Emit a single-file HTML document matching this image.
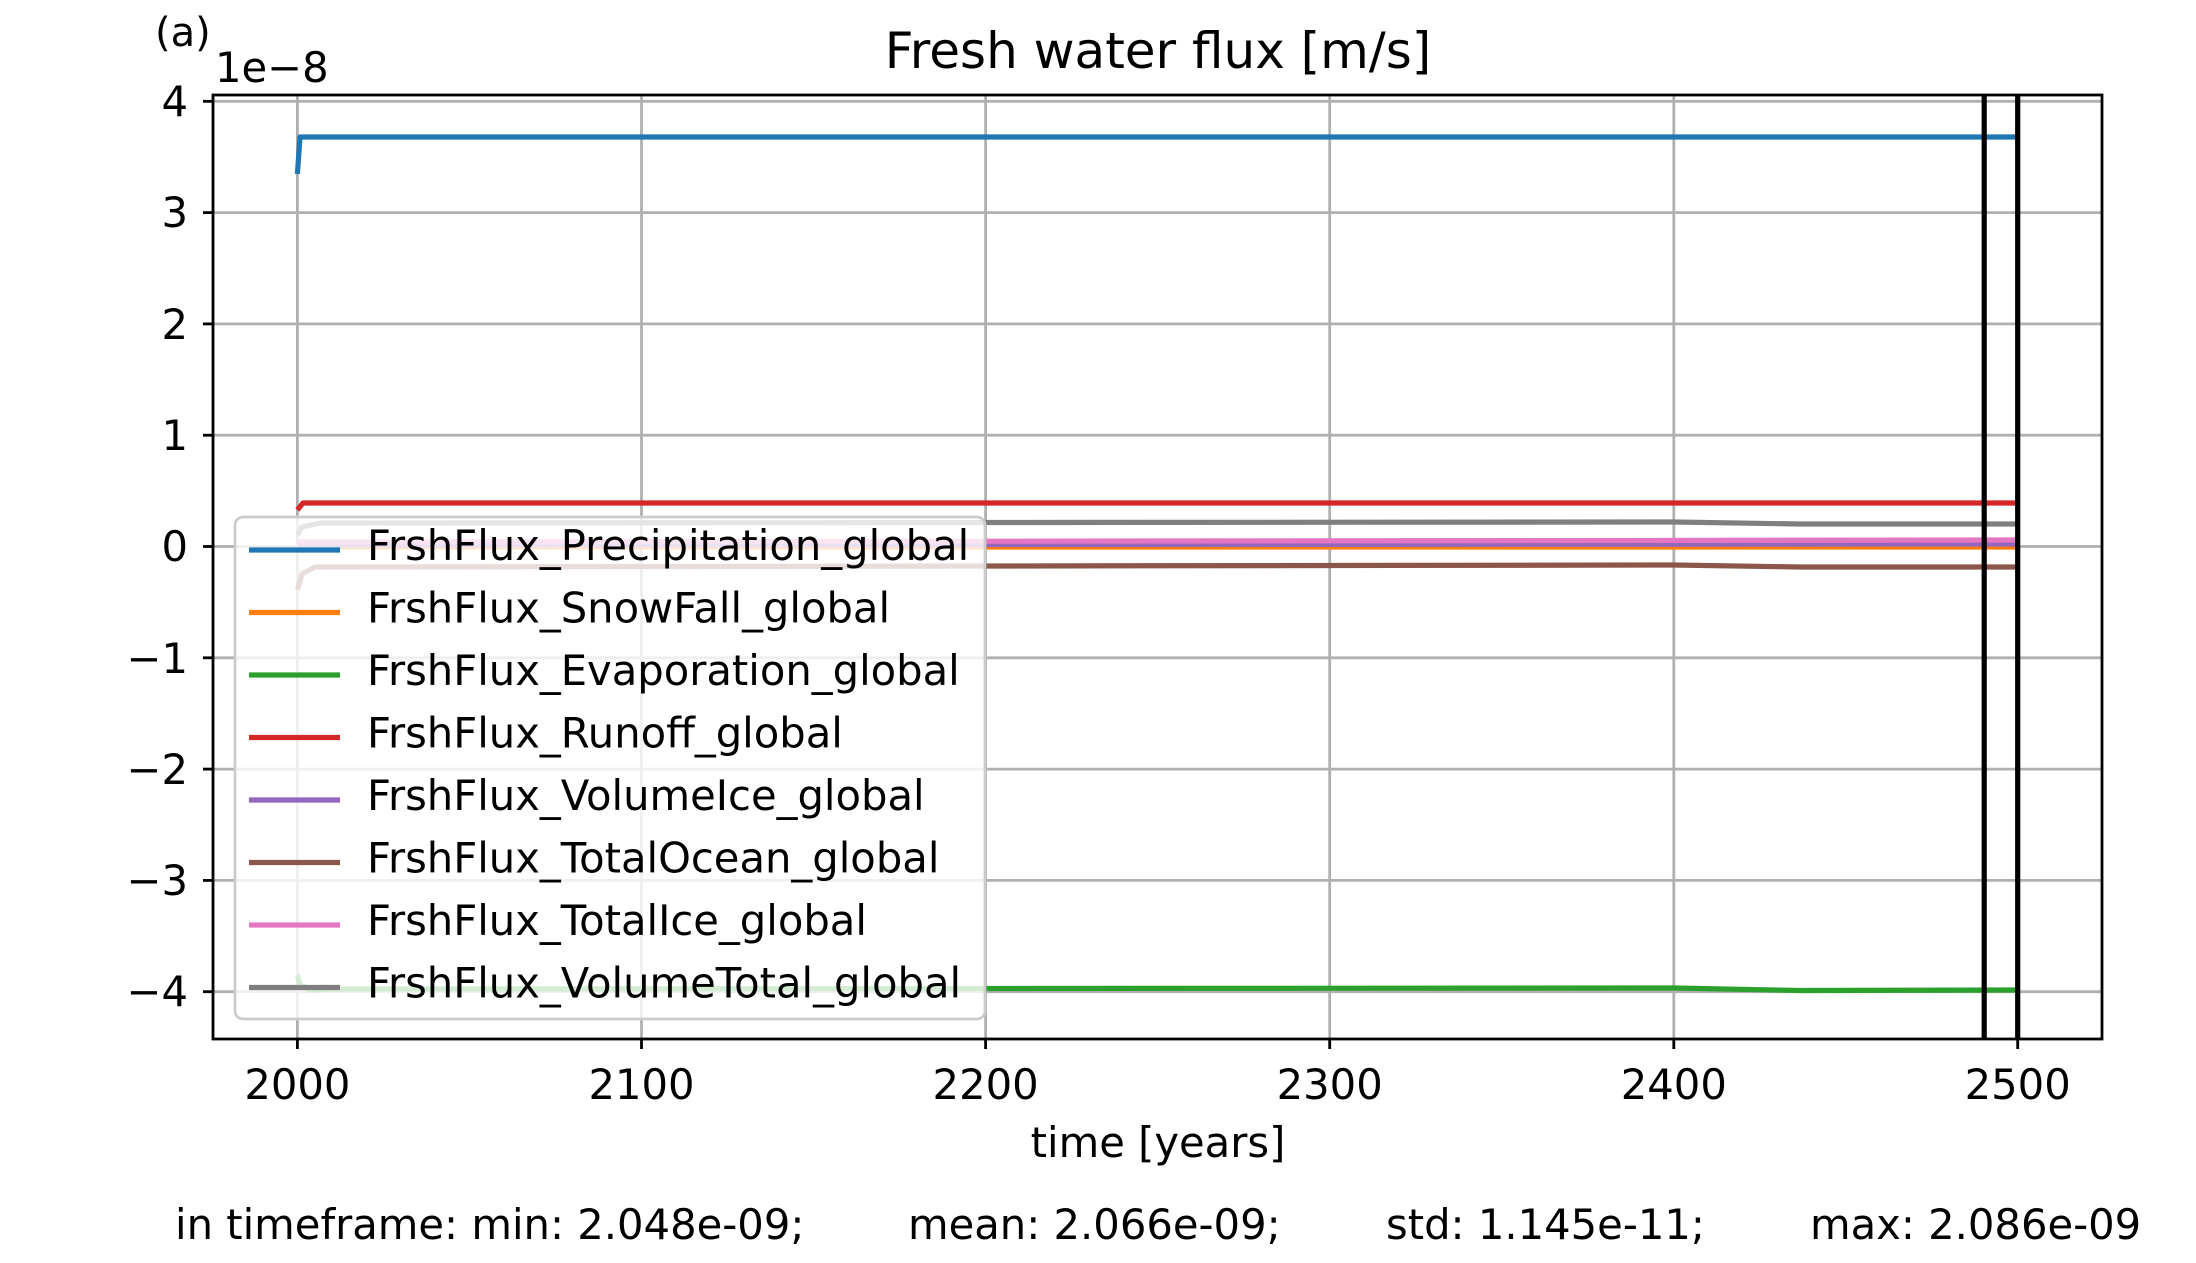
<!DOCTYPE html>
<html><head><meta charset="utf-8"><style>
html,body{margin:0;padding:0;background:#fff;}
svg{display:block;font-family:"DejaVu Sans","Liberation Sans",sans-serif;}
</style></head><body>
<svg width="2196" height="1263" viewBox="0 0 2196 1263" xmlns="http://www.w3.org/2000/svg">
<rect width="2196" height="1263" fill="#fff"/>
<g stroke="#b0b0b0" stroke-width="2.8">
<line x1="297.4" y1="95" x2="297.4" y2="1039"/>
<line x1="641.5" y1="95" x2="641.5" y2="1039"/>
<line x1="985.6" y1="95" x2="985.6" y2="1039"/>
<line x1="1329.7" y1="95" x2="1329.7" y2="1039"/>
<line x1="1673.8" y1="95" x2="1673.8" y2="1039"/>
<line x1="2017.7" y1="95" x2="2017.7" y2="1039"/>
<line x1="213" y1="101.3" x2="2102" y2="101.3"/>
<line x1="213" y1="212.6" x2="2102" y2="212.6"/>
<line x1="213" y1="323.9" x2="2102" y2="323.9"/>
<line x1="213" y1="435.2" x2="2102" y2="435.2"/>
<line x1="213" y1="546.5" x2="2102" y2="546.5"/>
<line x1="213" y1="657.8" x2="2102" y2="657.8"/>
<line x1="213" y1="769.1" x2="2102" y2="769.1"/>
<line x1="213" y1="880.4" x2="2102" y2="880.4"/>
<line x1="213" y1="991.7" x2="2102" y2="991.7"/>
</g>
<g fill="none" stroke-width="5.2" stroke-linejoin="round">
<polyline stroke="#1f77b4" points="297.4,174 300,137 2017.7,137"/>
<polyline stroke="#ff7f0e" points="297.4,547 2017.7,547"/>
<polyline stroke="#2ca02c" points="297.4,975 300,985 310,990 330,989 1674,988 1800,990.5 2017.7,990"/>
<polyline stroke="#d62728" points="297.4,510 303,503 2017.7,503"/>
<polyline stroke="#9467bd" points="297.4,545 2017.7,544"/>
<polyline stroke="#8c564b" points="297.4,590 302,574 315,567 1674,565 1800,567 2017.7,567"/>
<polyline stroke="#e377c2" points="297.4,542 2017.7,540"/>
<polyline stroke="#7f7f7f" points="297.4,535 302,527 320,523 1674,522 1800,524 2017.7,524"/>
</g>
<line x1="1984.2" y1="95" x2="1984.2" y2="1039" stroke="#000" stroke-width="5.2"/>
<line x1="2017.7" y1="95" x2="2017.7" y2="1039" stroke="#000" stroke-width="5.2"/>
<rect x="235" y="517" width="750" height="502" rx="8" fill="#fff" fill-opacity="0.8" stroke="#cccccc" stroke-width="2.8"/>
<g stroke-width="5.2">
<line x1="249" y1="550" x2="340" y2="550" stroke="#1f77b4"/>
<line x1="249" y1="612.5" x2="340" y2="612.5" stroke="#ff7f0e"/>
<line x1="249" y1="675" x2="340" y2="675" stroke="#2ca02c"/>
<line x1="249" y1="737.5" x2="340" y2="737.5" stroke="#d62728"/>
<line x1="249" y1="800" x2="340" y2="800" stroke="#9467bd"/>
<line x1="249" y1="862.5" x2="340" y2="862.5" stroke="#8c564b"/>
<line x1="249" y1="925" x2="340" y2="925" stroke="#e377c2"/>
<line x1="249" y1="987.5" x2="340" y2="987.5" stroke="#7f7f7f"/>
</g>
<g font-size="41.7" fill="#000">
<text x="367" y="560">FrshFlux_Precipitation_global</text>
<text x="367" y="622.5">FrshFlux_SnowFall_global</text>
<text x="367" y="685">FrshFlux_Evaporation_global</text>
<text x="367" y="747.5">FrshFlux_Runoff_global</text>
<text x="367" y="810">FrshFlux_VolumeIce_global</text>
<text x="367" y="872.5">FrshFlux_TotalOcean_global</text>
<text x="367" y="935">FrshFlux_TotalIce_global</text>
<text x="367" y="997.5">FrshFlux_VolumeTotal_global</text>
</g>
<rect x="213" y="95" width="1889" height="944" fill="none" stroke="#000" stroke-width="2.8"/>
<g stroke="#000" stroke-width="2.8">
<line x1="203" y1="101.3" x2="213" y2="101.3"/><line x1="203" y1="212.6" x2="213" y2="212.6"/>
<line x1="203" y1="323.9" x2="213" y2="323.9"/><line x1="203" y1="435.2" x2="213" y2="435.2"/>
<line x1="203" y1="546.5" x2="213" y2="546.5"/><line x1="203" y1="657.8" x2="213" y2="657.8"/>
<line x1="203" y1="769.1" x2="213" y2="769.1"/><line x1="203" y1="880.4" x2="213" y2="880.4"/>
<line x1="203" y1="991.7" x2="213" y2="991.7"/>
<line x1="297.4" y1="1039" x2="297.4" y2="1049"/><line x1="641.5" y1="1039" x2="641.5" y2="1049"/>
<line x1="985.6" y1="1039" x2="985.6" y2="1049"/><line x1="1329.7" y1="1039" x2="1329.7" y2="1049"/>
<line x1="1673.8" y1="1039" x2="1673.8" y2="1049"/><line x1="2017.7" y1="1039" x2="2017.7" y2="1049"/>
</g>
<g font-size="41.7" fill="#000" text-anchor="end">
<text x="188" y="116">4</text><text x="188" y="227">3</text><text x="188" y="339">2</text>
<text x="188" y="450">1</text><text x="188" y="561">0</text><text x="188" y="673">−1</text>
<text x="188" y="784">−2</text><text x="188" y="895">−3</text><text x="188" y="1006">−4</text>
</g>
<g font-size="41.7" fill="#000" text-anchor="middle">
<text x="297.4" y="1099">2000</text><text x="641.5" y="1099">2100</text><text x="985.6" y="1099">2200</text>
<text x="1329.7" y="1099">2300</text><text x="1673.8" y="1099">2400</text><text x="2017.7" y="1099">2500</text>
<text x="1158" y="1157">time [years]</text>
<text x="1158" y="68" font-size="50">Fresh water flux [m/s]</text>
</g>
<text x="155" y="46" font-size="40" fill="#000">(a)</text>
<text x="215" y="82" font-size="41.7" fill="#000">1e−8</text>
<g font-size="41.7" fill="#000">
<text x="175" y="1239">in timeframe: min: 2.048e-09;</text>
<text x="908" y="1239">mean: 2.066e-09;</text>
<text x="1386" y="1239">std: 1.145e-11;</text>
<text x="1810" y="1239">max: 2.086e-09</text>
</g>
</svg>
</body></html>
